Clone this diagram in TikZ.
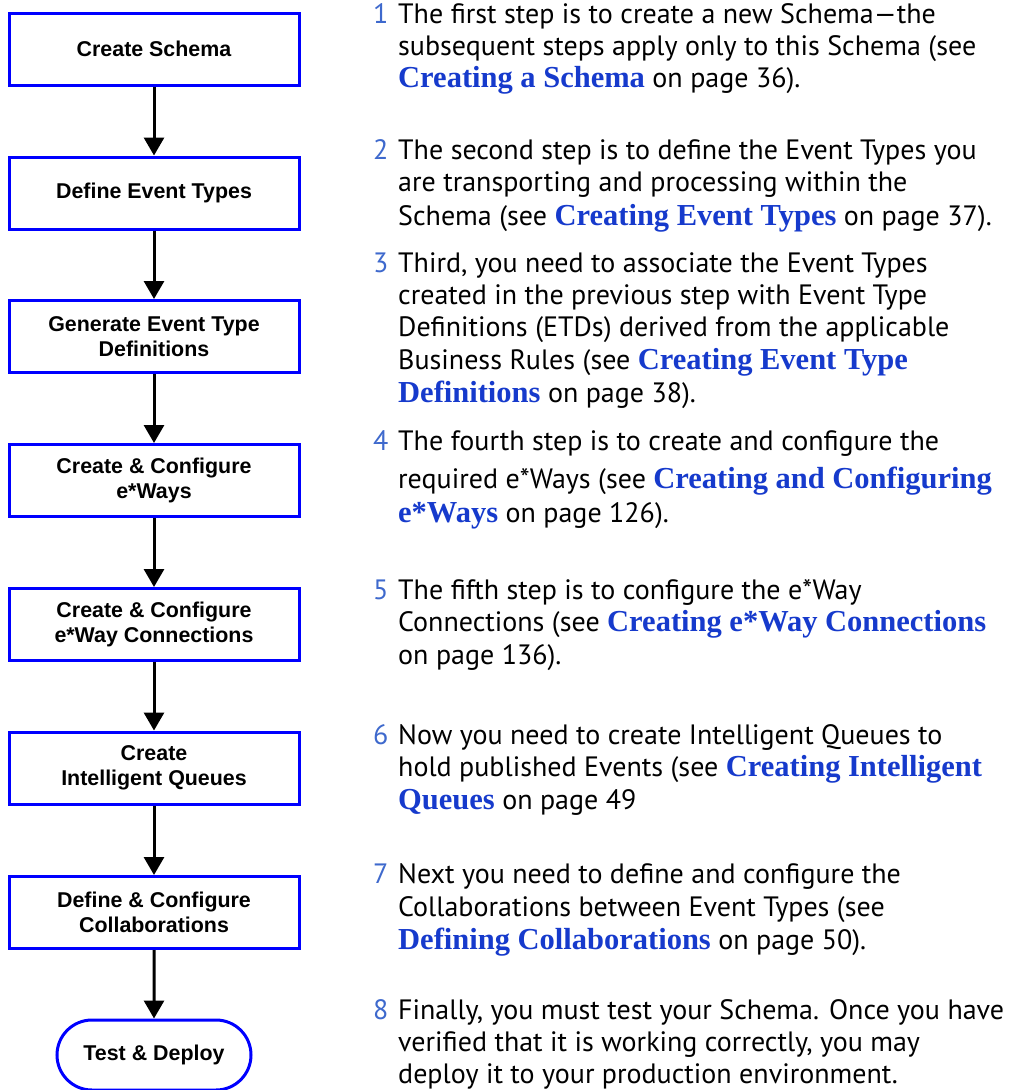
\documentclass[tikz,border=0pt]{standalone}
\usepackage{fontspec}
\setmainfont{PT Sans}
\newfontfamily\boxfont{Liberation Sans}
\newfontfamily\linkfont{Liberation Serif}
\usetikzlibrary{arrows.meta,shapes.misc}
\definecolor{boxblue}{RGB}{0,0,255}
\definecolor{linkblue}{RGB}{22,58,204}
\definecolor{numblue}{RGB}{62,105,205}
\newcommand{\lnk}[1]{{\linkfont\bfseries\color{linkblue}\fontsize{30.5}{32}\selectfont #1}}
\tikzset{
  stepbox/.style={draw=boxblue, line width=3pt, minimum width=290pt, minimum height=72pt,
    inner sep=0pt, align=center, font=\boxfont\bfseries\fontsize{21.4}{24.5}\selectfont},
  endbox/.style={stepbox, rounded rectangle, minimum width=194pt, minimum height=70pt},
  arr/.style={line width=3pt, -{Triangle[width=20pt,length=18pt]}},
  txt/.style={anchor=base west, inner sep=0pt, font=\fontsize{28}{32}\selectfont},
  num/.style={anchor=base west, inner sep=0pt, text=numblue, font=\fontsize{28}{32}\selectfont}
}
\begin{document}
\begin{tikzpicture}[x=1pt,y=-1pt]
\useasboundingbox[fill=white] (0,0) rectangle (1009,1090);
% flow chart
\node[stepbox] (b1) at (154,49) {Create Schema};
\node[stepbox] (b2) at (154,193) {Define Event Types};
\node[stepbox] (b3) at (154,336.5) {Generate Event Type\\Definitions};
\node[stepbox] (b4) at (154,480.5) {Create \& Configure\\e*Ways};
\node[stepbox] (b5) at (154,624.5) {Create \& Configure\\e*Way Connections};
\node[stepbox] (b6) at (154,768) {Create\\Intelligent Queues};
\node[stepbox] (b7) at (154,912.5) {Define \& Configure\\Collaborations};
\node[endbox] (b8) at (154,1055) {Test \& Deploy};
\draw[arr] (b1) -- (b2);
\draw[arr] (b2) -- (b3);
\draw[arr] (b3) -- (b4);
\draw[arr] (b4) -- (b5);
\draw[arr] (b5) -- (b6);
\draw[arr] (b6) -- (b7);
\draw[arr] (b7) -- (b8);
% descriptions
\node[num] (n1) at (373,23) {1};
\node[txt] (t1a) at (398,23) {The first step is to create a new Schema—the};
\node[txt] (t1b) at (398,55) {subsequent steps apply only to this Schema (see};
\node[txt] (t1c) at (398,87) {\lnk{Creating a Schema} on page 36).};
\node[num] (n2) at (373,159) {2};
\node[txt] (t2a) at (398,159) {The second step is to define the Event Types you};
\node[txt] (t2b) at (398,191) {are transporting and processing within the};
\node[txt] (t2c) at (398,225) {Schema (see \lnk{Creating Event Types} on page 37).};
\node[num] (n3) at (373,272) {3};
\node[txt] (t3a) at (398,272) {Third, you need to associate the Event Types};
\node[txt] (t3b) at (398,304) {created in the previous step with Event Type};
\node[txt] (t3c) at (398,336) {Definitions (ETDs) derived from the applicable};
\node[txt] (t3d) at (398,369) {Business Rules (see \lnk{Creating Event Type}};
\node[txt] (t3e) at (398,402) {\lnk{Definitions} on page 38).};
\node[num] (n4) at (373,450) {4};
\node[txt] (t4a) at (398,450) {The fourth step is to create and configure the};
\node[txt] (t4b) at (398,488) {required e*Ways (see \lnk{Creating and Configuring}};
\node[txt] (t4c) at (398,522) {\lnk{e*Ways} on page 126).};
\node[num] (n5) at (373,599) {5};
\node[txt] (t5a) at (398,599) {The fifth step is to configure the e*Way};
\node[txt] (t5b) at (398,631) {Connections (see \lnk{Creating e*Way Connections}};
\node[txt] (t5c) at (398,664) {on page 136).};
\node[num] (n6) at (373,744) {6};
\node[txt] (t6a) at (398,744) {Now you need to create Intelligent Queues to};
\node[txt] (t6b) at (398,776) {hold published Events (see \lnk{Creating Intelligent}};
\node[txt] (t6c) at (398,809) {\lnk{Queues} on page 49};
\node[num] (n7) at (373,883) {7};
\node[txt] (t7a) at (398,883) {Next you need to define and configure the};
\node[txt] (t7b) at (398,916) {Collaborations between Event Types (see};
\node[txt] (t7c) at (398,949) {\lnk{Defining Collaborations} on page 50).};
\node[num] (n8) at (373,1019) {8};
\node[txt] (t8a) at (398,1019) {Finally, you must test your Schema. Once you have};
\node[txt] (t8b) at (398,1051) {verified that it is working correctly, you may};
\node[txt] (t8c) at (398,1083) {deploy it to your production environment.};
\end{tikzpicture}
\end{document}
